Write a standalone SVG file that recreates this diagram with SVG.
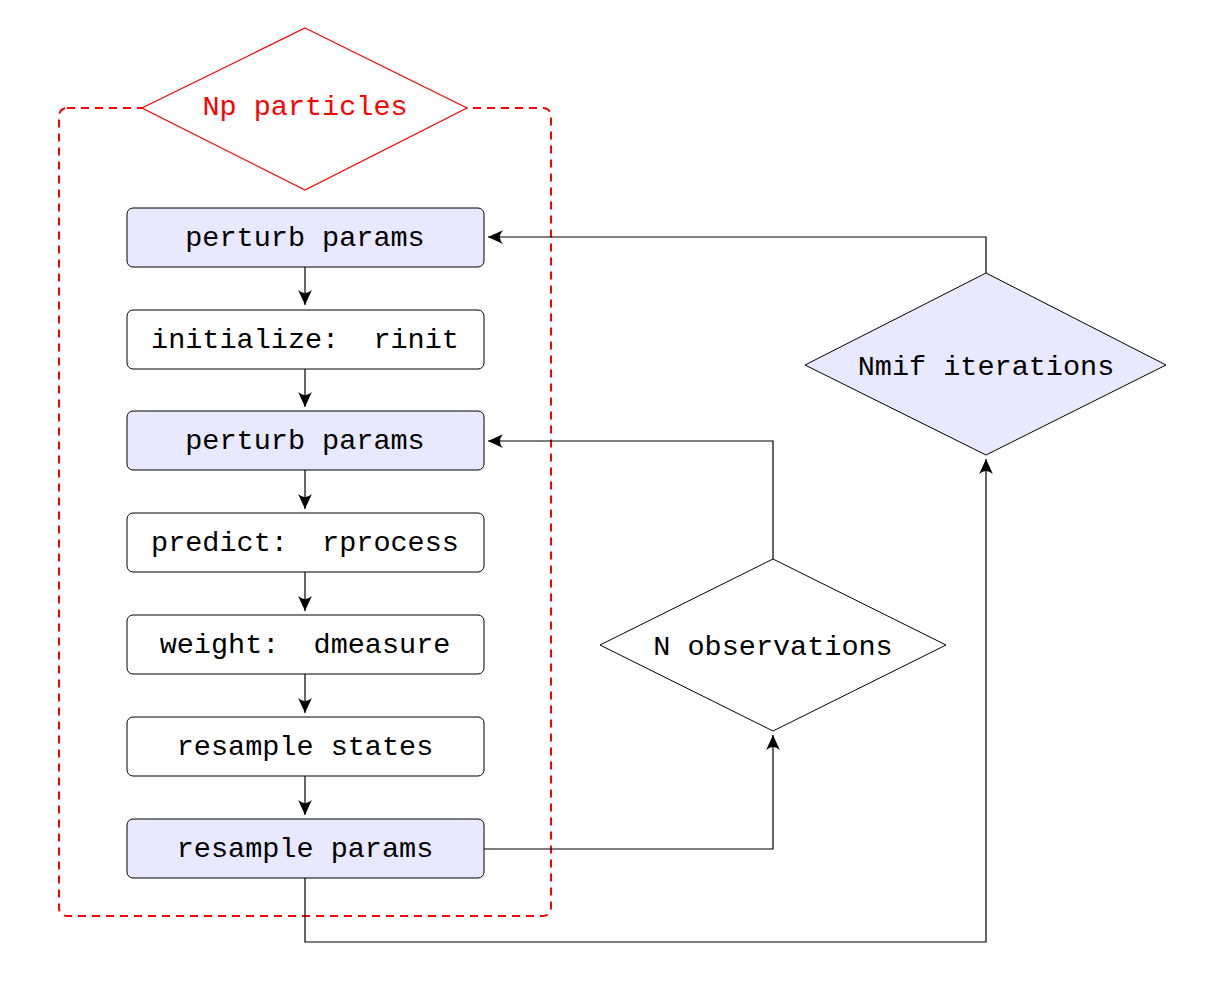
<svg xmlns="http://www.w3.org/2000/svg" width="1212" height="998" viewBox="0 0 1212 998">
<style>
.box{stroke:#000;stroke-width:1;}
.fill{fill:#e8e8fe;}
.plain{fill:#fff;}
.t{font-family:"Liberation Mono","DejaVu Sans Mono",monospace;font-size:28.5px;fill:#000;text-anchor:middle;dominant-baseline:central;white-space:pre;}
.c{fill:none;stroke:#000;stroke-width:1.2;}
</style>
<defs>
<marker id="ah" markerUnits="userSpaceOnUse" markerWidth="20" markerHeight="20" viewBox="-14 -8 16 16" refX="0" refY="0" orient="auto">
<path d="M0,0 L-12,-5.5 Q-7,0 -12,5.5 Z" fill="#000"/>
</marker>
</defs>
<rect x="0" y="0" width="1212" height="998" fill="#fff"/>
<g id="cluster">
<rect x="59" y="108" width="492" height="808" rx="8" fill="none" stroke="#f00" stroke-width="2" stroke-dasharray="8,6"/>
</g>
<g id="np">
<polygon points="305,28 467,108 305,190 142,108" fill="#fff" stroke="#f00" stroke-width="1.2"/>
<text class="t" x="305" y="107" style="fill:#f00">Np particles</text>
</g>
<g id="connectors">
<line class="c" x1="305" y1="267" x2="305" y2="305" marker-end="url(#ah)"/>
<line class="c" x1="305" y1="369" x2="305" y2="407" marker-end="url(#ah)"/>
<line class="c" x1="305" y1="470" x2="305" y2="509" marker-end="url(#ah)"/>
<line class="c" x1="305" y1="572" x2="305" y2="611" marker-end="url(#ah)"/>
<line class="c" x1="305" y1="674" x2="305" y2="713" marker-end="url(#ah)"/>
<line class="c" x1="305" y1="776" x2="305" y2="815" marker-end="url(#ah)"/>
<polyline class="c" points="986,273 986,237 488,237" marker-end="url(#ah)"/>
<polyline class="c" points="773,559 773,441 488,441" marker-end="url(#ah)"/>
<polyline class="c" points="484,849 773,849 773,735" marker-end="url(#ah)"/>
<polyline class="c" points="305,878 305,942 986,942 986,459" marker-end="url(#ah)"/>
</g>
<g id="n1"><rect class="box fill" x="127" y="208" width="357" height="59" rx="6"/><text class="t" x="305" y="238">perturb params</text></g>
<g id="n2"><rect class="box plain" x="127" y="310" width="357" height="59" rx="6"/><text class="t" x="305" y="340" xml:space="preserve">initialize:  rinit</text></g>
<g id="n3"><rect class="box fill" x="127" y="411" width="357" height="59" rx="6"/><text class="t" x="305" y="441">perturb params</text></g>
<g id="n4"><rect class="box plain" x="127" y="513" width="357" height="59" rx="6"/><text class="t" x="305" y="543" xml:space="preserve">predict:  rprocess</text></g>
<g id="n5"><rect class="box plain" x="127" y="615" width="357" height="59" rx="6"/><text class="t" x="305" y="645" xml:space="preserve">weight:  dmeasure</text></g>
<g id="n6"><rect class="box plain" x="127" y="717" width="357" height="59" rx="6"/><text class="t" x="305" y="747">resample states</text></g>
<g id="n7"><rect class="box fill" x="127" y="819" width="357" height="59" rx="6"/><text class="t" x="305" y="849">resample params</text></g>
<g id="nmif"><polygon points="986,273 1166,365 986,455 805,365" class="box fill"/><text class="t" x="986" y="367">Nmif iterations</text></g>
<g id="nobs"><polygon points="773,559 946,645 773,731 600,645" class="box plain"/><text class="t" x="773" y="647">N observations</text></g>
</svg>
